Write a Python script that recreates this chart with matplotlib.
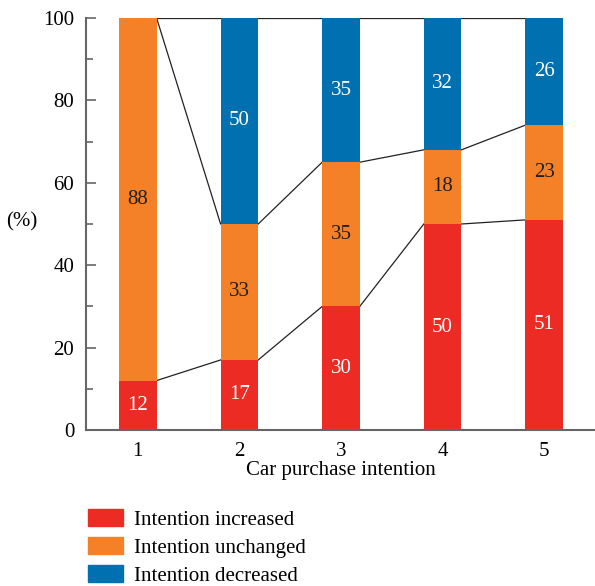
import numpy as np
import matplotlib.pyplot as plt
from matplotlib.patches import Patch

plt.rcParams['font.family'] = ['Liberation Serif', 'DejaVu Serif']
plt.rcParams['font.size'] = 15

categories = [1, 2, 3, 4, 5]
increased = [12, 17, 30, 50, 51]
unchanged = [88, 33, 35, 18, 23]
decreased = [0, 50, 35, 32, 26]

series_names = ['Intention increased', 'Intention unchanged', 'Intention decreased']
colors = ['#ED2B25', '#F48027', '#0070B0']
text_colors = ['white', '#231f20', 'white']

fig = plt.figure(figsize=(5.95, 5.86), dpi=100)
ax = fig.add_axes([0.1445, 0.2662, 0.8555, 0.7031])

x = np.array(categories, dtype=float)
width = 0.37
bottom = np.zeros(len(x))
tops = []
for vals, c, tc in zip([increased, unchanged, decreased], colors, text_colors):
    vals = np.array(vals, dtype=float)
    ax.bar(x, vals, width, bottom=bottom, color=c, zorder=2)
    for xi, b, v in zip(x, bottom, vals):
        if v > 0:
            ax.text(xi, b + v / 2, f'{v:.0f}', ha='center', va='center',
                    color=tc, fontsize=15, zorder=3)
    bottom = bottom + vals
    tops.append(bottom.copy())

# connector lines between segment tops of neighbouring bars
for top in tops:
    for i in range(len(x) - 1):
        ax.plot([x[i] + width / 2, x[i + 1] - width / 2], [top[i], top[i + 1]],
                color='#222222', lw=0.9, zorder=1)

ax.set_xlim(0.49, 5.5)
ax.set_ylim(0, 100)
ax.set_xticks(categories)
ax.set_yticks(np.arange(0, 101, 20))
ax.set_yticks(np.arange(10, 100, 20), minor=True)
ax.tick_params(axis='y', which='major', direction='in', length=7, width=1.2,
               color='#666666', pad=8.5)
ax.tick_params(axis='y', which='minor', direction='in', length=5, width=1.2,
               color='#666666')
ax.tick_params(axis='x', length=0, pad=8.5)
for s in ['top', 'right']:
    ax.spines[s].set_visible(False)
for s in ['left', 'bottom']:
    ax.spines[s].set_color('#666666')
    ax.spines[s].set_linewidth(1.5)

ax.set_xlabel('Car purchase intention', labelpad=0)
fig.text(22 / 595, 1 - 222 / 586, '(%)', ha='center', va='center', fontsize=15)

handles = [Patch(color=c) for c in colors]
fig.legend(handles, series_names, loc='upper left',
           bbox_to_anchor=(80 / 595, 1 - 501 / 586), frameon=False,
           handlelength=1.68, handleheight=0.87, labelspacing=0.35,
           handletextpad=0.5, borderaxespad=0)

fig.savefig('out.png', dpi=100)
